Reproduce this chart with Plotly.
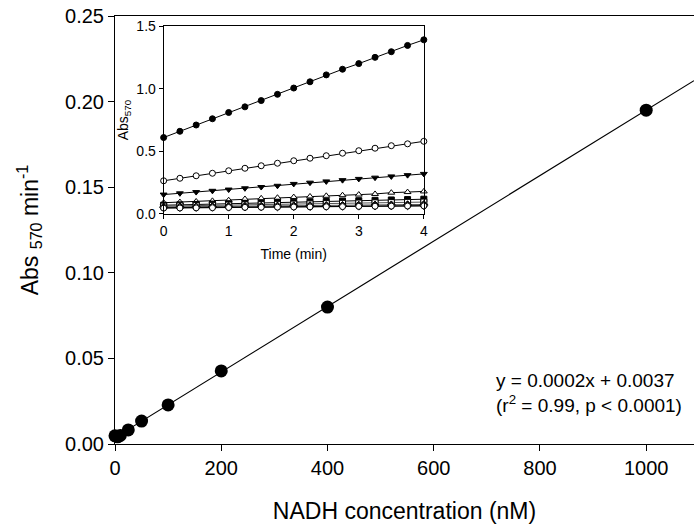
import numpy as np
import plotly.graph_objects as go

# Main panel data
nadh_nM = [0, 5, 10, 25, 50, 100, 200, 400, 1000]
rate_abs_per_min = [0.0048, 0.0042, 0.0050, 0.0082, 0.0134, 0.0228, 0.0427, 0.0800, 0.1950]

# Inset data: Abs570 vs time for each concentration
time_min = [0, 0.25, 0.5, 0.75, 1, 1.25, 1.5, 1.75, 2, 2.25, 2.5, 2.75, 3, 3.25, 3.5, 3.75, 4]
abs_1000 = [0.61, 0.66, 0.71, 0.76, 0.81, 0.855, 0.905, 0.955, 1.005, 1.055, 1.11, 1.155, 1.20, 1.25, 1.295, 1.345, 1.39]
abs_400 = [0.265, 0.285, 0.305, 0.325, 0.345, 0.365, 0.385, 0.405, 0.425, 0.445, 0.465, 0.485, 0.505, 0.525, 0.545, 0.56, 0.58]
abs_200 = [0.155, 0.165, 0.175, 0.185, 0.195, 0.205, 0.215, 0.225, 0.24, 0.25, 0.26, 0.27, 0.28, 0.29, 0.30, 0.31, 0.32]
abs_100 = [0.09, 0.095, 0.10, 0.105, 0.11, 0.12, 0.125, 0.13, 0.135, 0.14, 0.145, 0.15, 0.155, 0.16, 0.17, 0.175, 0.18]
abs_50 = [0.07, 0.073, 0.076, 0.079, 0.082, 0.085, 0.088, 0.091, 0.094, 0.097, 0.10, 0.103, 0.106, 0.109, 0.112, 0.115, 0.118]
abs_25 = [0.063, 0.065, 0.067, 0.069, 0.071, 0.073, 0.075, 0.077, 0.079, 0.081, 0.083, 0.085, 0.087, 0.089, 0.091, 0.093, 0.095]
abs_10 = [0.056, 0.057, 0.058, 0.059, 0.061, 0.062, 0.063, 0.064, 0.066, 0.067, 0.068, 0.069, 0.071, 0.072, 0.073, 0.074, 0.076]
abs_5 = [0.050, 0.051, 0.052, 0.053, 0.054, 0.055, 0.056, 0.057, 0.058, 0.059, 0.060, 0.061, 0.062, 0.063, 0.064, 0.065, 0.066]
abs_0 = [0.047, 0.048, 0.049, 0.050, 0.052, 0.053, 0.054, 0.055, 0.056, 0.057, 0.058, 0.059, 0.061, 0.062, 0.063, 0.064, 0.065]

x_max = 1090
FONT = "Arial, Liberation Sans, sans-serif"

fig = go.Figure()

# regression line
slope, intercept = np.polyfit(nadh_nM, rate_abs_per_min, 1)
fit_x = np.array([0, x_max])
fig.add_trace(go.Scatter(x=fit_x, y=slope * fit_x + intercept, mode="lines",
                         line=dict(color="black", width=1.2), showlegend=False,
                         cliponaxis=True))
fig.add_trace(go.Scatter(x=nadh_nM, y=rate_abs_per_min, mode="markers",
                         marker=dict(color="black", size=13), showlegend=False,
                         cliponaxis=False))

inset_series = [
    (abs_1000, "circle", "black", "black"),
    (abs_400, "circle", "white", "black"),
    (abs_200, "triangle-down", "black", "black"),
    (abs_100, "triangle-up", "white", "black"),
    (abs_50, "square", "black", "black"),
    (abs_25, "square", "white", "#555555"),
    (abs_10, "diamond", "black", "#555555"),
    (abs_5, "diamond", "white", "black"),
    (abs_0, "circle", "white", "black"),
]
for vals, sym, fill, lc in inset_series:
    fig.add_trace(go.Scatter(x=time_min, y=vals, mode="lines+markers", xaxis="x2", yaxis="y2",
                             line=dict(color=lc, width=1),
                             marker=dict(symbol=sym, size=6, color=fill,
                                         line=dict(color="black", width=1)),
                             showlegend=False, cliponaxis=False))

fig.update_layout(
    width=698, height=524,
    margin=dict(l=115, r=0, t=16, b=80),
    paper_bgcolor="white", plot_bgcolor="white",
    font=dict(family=FONT, color="black"),
    xaxis=dict(range=[0, x_max], tickvals=[0, 200, 400, 600, 800, 1000],
               showgrid=False, zeroline=False, showline=True, linecolor="black", linewidth=1,
               mirror=True, ticks="outside", ticklen=6, tickcolor="black",
               tickfont=dict(size=20),
               title=dict(text="NADH concentration (nM)", font=dict(size=23), standoff=26)),
    yaxis=dict(range=[0, 0.25], tickvals=[0, 0.05, 0.10, 0.15, 0.20, 0.25],
               tickformat=".2f",
               showgrid=False, zeroline=False, showline=True, linecolor="black", linewidth=1,
               ticks="outside", ticklen=6, tickcolor="black",
               tickfont=dict(size=20),
               title=dict(text="Abs <sub>570</sub> min<sup>-1</sup>", font=dict(size=23), standoff=20)),
    xaxis2=dict(domain=[0.084, 0.5334], anchor="y2", range=[0, 4], tickvals=[0, 1, 2, 3, 4],
                showgrid=False, zeroline=False, showline=True, linecolor="black", linewidth=1,
                mirror=True, ticks="outside", ticklen=4, tickcolor="black",
                tickfont=dict(size=14),
                title=dict(text="Time (min)", font=dict(size=14), standoff=11)),
    yaxis2=dict(domain=[0.5374, 0.9766], anchor="x2", range=[0, 1.5], tickvals=[0, 0.5, 1.0, 1.5],
                tickformat=".1f",
                showgrid=False, zeroline=False, showline=True, linecolor="black", linewidth=1,
                mirror=True, ticks="outside", ticklen=4, tickcolor="black",
                tickfont=dict(size=14),
                title=dict(text="Abs<sub>570</sub>", font=dict(size=14), standoff=4)),
    annotations=[
        dict(text="y = 0.0002x + 0.0037<br>(r<sup>2</sup> = 0.99, p &lt; 0.0001)",
             xref="paper", yref="paper", x=0.654, y=0.119, xanchor="left", yanchor="middle",
             align="left", showarrow=False, font=dict(size=19)),
    ],
)

fig.write_html("out.html")
